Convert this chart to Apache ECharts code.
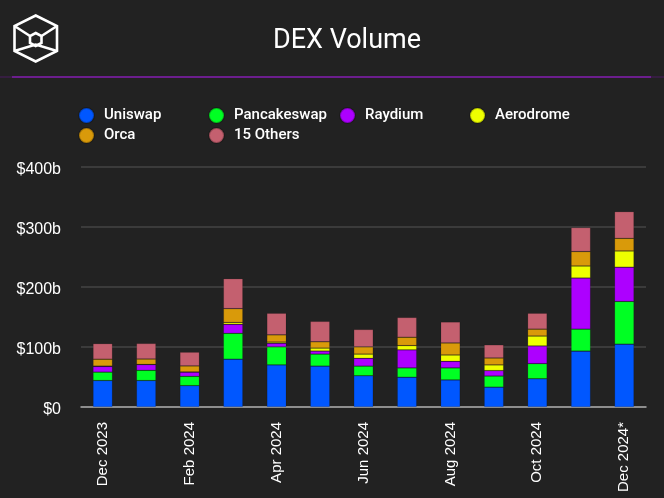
<!DOCTYPE html>
<html><head><meta charset="utf-8">
<style>html,body{margin:0;padding:0;background:#222222}#c{width:664px;height:498px}</style>
<script src="https://cdn.jsdelivr.net/npm/echarts@6/dist/echarts.min.js"></script>
</head><body><div id="c"></div>
<script>
const categories=['Dec 2023','Jan 2024','Feb 2024','Mar 2024','Apr 2024','May 2024','Jun 2024','Jul 2024','Aug 2024','Sep 2024','Oct 2024','Nov 2024','Dec 2024*'];
const shownLabels=['Dec 2023','Feb 2024','Apr 2024','Jun 2024','Aug 2024','Oct 2024','Dec 2024*'];
const uniswap=[44,44,35.5,79.5,70,68,52,49.5,45,33,47,93,104.5];
const pancakeswap=[14,17,15.5,43,30,20,16,15.5,20,18.5,25,36.5,71];
const raydium=[9.5,9.5,7,15,6,5,13,30,11,9,29.5,85,57];
const aerodrome=[0.5,0.3,0.3,3,2,5,7,7,10.5,9.5,16.5,20,27];
const orca=[11.5,9,10,23,12,10.5,12,14,20,11.5,11.5,24,21];
const others=[26,26,23,50,36,34,29,33,35,22,26.5,40,44.5];
const seriesNames=['Uniswap','Pancakeswap','Raydium','Aerodrome','Orca','15 Others'];
const seriesValues=[uniswap,pancakeswap,raydium,aerodrome,orca,others];
const colors=['#0057ff','#00ff23','#ad00ff','#eeff00','#d99a0a','#c4606f'];
const yTicks=[100,200,300,400];
const uiFont='Roboto';
const legendPos=[[78,107],[208,107],[339,107],[469,107],[78,127],[208,127]];
const white='#ffffff';
const logoStyle={fill:'none',stroke:white,lineWidth:2.6};
const chart=echarts.init(document.getElementById('c'),null,{renderer:'canvas'});
chart.setOption({
  backgroundColor:'#222222',animation:false,
  title:{text:'DEX Volume',left:342,top:23,textAlign:'center',textStyle:{color:white,fontFamily:uiFont,fontWeight:400,fontSize:27}},
  legend:seriesNames.map((n,i)=>({data:[n],left:legendPos[i][0],top:legendPos[i][1],icon:'circle',itemWidth:15,itemHeight:15,itemGap:0,padding:0,selectedMode:false,
    textStyle:{color:white,fontFamily:uiFont,fontWeight:500,fontSize:15,padding:[0,0,0,5]}})),
  grid:{left:81,right:18,top:166.5,bottom:91},
  xAxis:{type:'category',data:categories,axisTick:{show:false},axisLine:{lineStyle:{color:'#aaaaaa',width:1.5}},
    axisLabel:{interval:0,rotate:90,margin:15,color:white,fontFamily:'Liberation Sans',fontSize:15,formatter:v=>shownLabels.includes(v)?v:''}},
  yAxis:{type:'value',min:0,max:400,interval:100,axisLine:{show:false},axisTick:{show:false},
    splitLine:{lineStyle:{color:'#444444',width:1.5}},
    axisLabel:{margin:20,color:white,fontFamily:'Liberation Sans',fontSize:16,verticalAlign:'top',lineHeight:6,formatter:v=>yTicks.includes(v)?'$'+v+'b':'$'+v}},
  series:seriesNames.map((n,i)=>({name:n,type:'bar',stack:'t',data:seriesValues[i],barWidth:19.5,itemStyle:{color:colors[i],borderColor:'rgba(0,0,0,0.22)',borderWidth:0.6}})),
  graphic:[
    {type:'line',shape:{x1:0,y1:77,x2:664,y2:77},style:{stroke:'#4a1a60',lineWidth:1.2},silent:true},
    {type:'line',shape:{x1:12,y1:77,x2:651,y2:77},style:{stroke:'#7f1fa8',lineWidth:1.5},silent:true},
    {type:'polygon',shape:{points:[[35.7,15.5],[57,26],[57,51],[35.7,61.5],[14.5,51],[14.5,26]]},style:logoStyle},
    {type:'polygon',shape:{points:[[35.7,33],[41.5,36],[41.5,43],[35.7,46],[30,43],[30,36]]},style:logoStyle},
    {type:'polyline',shape:{points:[[14.5,26],[30,36]]},style:logoStyle},
    {type:'polyline',shape:{points:[[57,26],[41.5,36]]},style:logoStyle},
    {type:'polyline',shape:{points:[[14.5,51],[35.7,44.5],[57,51]]},style:logoStyle}
  ]
});
</script></body></html>
